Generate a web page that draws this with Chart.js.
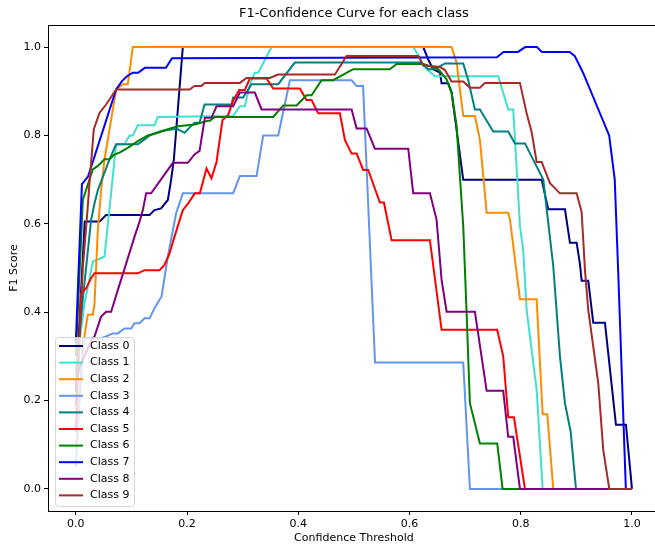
<!DOCTYPE html>
<html>
<head>
<meta charset="utf-8">
<script src="https://cdn.jsdelivr.net/npm/chart.js@4.4.1/dist/chart.umd.min.js"></script>
<style>
  html, body { margin: 0; padding: 0; background: #fff; }
  canvas { display: block; }
</style>
</head>
<body>
<canvas id="f1Chart" width="655" height="548"></canvas>
<script>
// Class names and colours (same order as the legend)
const classNames = ['Class 0', 'Class 1', 'Class 2', 'Class 3', 'Class 4',
                    'Class 5', 'Class 6', 'Class 7', 'Class 8', 'Class 9'];
const classColors = ['navy', 'turquoise', 'darkorange', 'cornflowerblue', 'teal',
                     'red', 'green', 'blue', 'purple', 'brown'];

// Tick labels
const xTicks = [0.0, 0.2, 0.4, 0.6, 0.8, 1.0];
const yTicks = [0.0, 0.2, 0.4, 0.6, 0.8, 1.0];

// [confidence threshold, F1 score]
const class0 = [[0, 0.22], [0.016, 0.605], [0.0426, 0.605], [0.0545, 0.62], [0.1326, 0.62], [0.1415, 0.631],
    [0.1534, 0.635], [0.1655, 0.654], [0.1714, 0.70], [0.1763, 0.746], [0.1924, 1.0], [0.6247, 1.0],
    [0.6336, 0.972], [0.6426, 0.95], [0.6547, 0.942], [0.6577, 0.918], [0.6696, 0.918], [0.6757, 0.897],
    [0.6966, 0.70], [0.8376, 0.70], [0.8495, 0.633], [0.8795, 0.633], [0.8885, 0.557], [0.9005, 0.557],
    [0.9065, 0.509], [0.9095, 0.471], [0.9214, 0.471], [0.9304, 0.376], [0.9514, 0.376], [0.9712, 0.145],
    [0.9892, 0.145], [1.0, 0.0]];
const class1 = [[0, 0.27], [0.0156, 0.42], [0.0306, 0.514], [0.0516, 0.526], [0.0725, 0.78], [0.0876, 0.78],
    [0.0966, 0.80], [0.1025, 0.80], [0.1115, 0.823], [0.1415, 0.823], [0.1475, 0.842], [0.2829, 0.844],
    [0.295, 0.866], [0.304, 0.866], [0.3129, 0.916], [0.322, 0.942], [0.328, 0.942], [0.352, 1.0],
    [0.6067, 1.0], [0.6187, 0.976], [0.6247, 0.957], [0.6457, 0.934], [0.7595, 0.934], [0.7775, 0.859],
    [0.7865, 0.859], [0.7986, 0.595], [0.8045, 0.54], [0.8106, 0.405], [0.8286, 0.224], [0.8394, 0.0],
    [1.0, 0.0]];
const class2 = [[0, 0.09], [0.0144, 0.337], [0.0216, 0.394], [0.0306, 0.394], [0.0336, 0.42], [0.0396, 0.586],
    [0.0455, 0.676], [0.0516, 0.746], [0.0725, 0.904], [0.0845, 0.916], [0.0935, 0.916], [0.1025, 1.0],
    [0.6757, 1.0], [0.6847, 0.965], [0.6966, 0.844], [0.7176, 0.844], [0.7266, 0.79], [0.7387, 0.625],
    [0.7775, 0.625], [0.7806, 0.61], [0.7986, 0.429], [0.8286, 0.429], [0.8394, 0.169], [0.8477, 0.169],
    [0.8585, 0.0], [1.0, 0.0]];
const class3 = [[0, 0.05], [0.013, 0.34], [0.043, 0.34], [0.0545, 0.345], [0.0665, 0.352], [0.0755, 0.352],
    [0.0876, 0.363], [0.0995, 0.363], [0.1056, 0.375], [0.1146, 0.375], [0.1236, 0.386], [0.1326, 0.386],
    [0.1415, 0.409], [0.1505, 0.428], [0.1541, 0.435], [0.1655, 0.526], [0.1804, 0.624], [0.1924, 0.669],
    [0.2829, 0.669], [0.295, 0.708], [0.325, 0.708], [0.3369, 0.80], [0.3639, 0.80], [0.3849, 0.925],
    [0.4959, 0.925], [0.5049, 0.912], [0.5165, 0.912], [0.538, 0.286], [0.6966, 0.286], [0.7086, 0.0],
    [1.0, 0.0]];
const class4 = [[0, 0.26], [0.0126, 0.43], [0.0275, 0.609], [0.0336, 0.646], [0.0396, 0.676], [0.0606, 0.746],
    [0.0725, 0.78], [0.1115, 0.78], [0.1236, 0.791], [0.1326, 0.80], [0.1534, 0.81], [0.1745, 0.814],
    [0.1835, 0.814], [0.1955, 0.806], [0.2135, 0.829], [0.2225, 0.829], [0.2315, 0.87], [0.28, 0.87],
    [0.2829, 0.886], [0.3009, 0.886], [0.316, 0.916], [0.3639, 0.916], [0.3939, 0.965], [0.6218, 0.965],
    [0.6336, 0.95], [0.6457, 0.95], [0.6637, 0.963], [0.6966, 0.963], [0.7056, 0.925], [0.7176, 0.859],
    [0.7266, 0.859], [0.7505, 0.809], [0.7775, 0.809], [0.7896, 0.782], [0.8076, 0.782], [0.8405, 0.70],
    [0.8585, 0.504], [0.8705, 0.30], [0.8795, 0.194], [0.8897, 0.13], [0.8993, 0.0], [1.0, 0.0]];
const class5 = [[0, 0.13], [0.0095, 0.443], [0.0185, 0.454], [0.0275, 0.477], [0.0336, 0.488], [0.1115, 0.488],
    [0.1236, 0.495], [0.1505, 0.495], [0.1595, 0.507], [0.1685, 0.533], [0.1775, 0.571], [0.1924, 0.631],
    [0.202, 0.646], [0.214, 0.669], [0.223, 0.669], [0.235, 0.725], [0.244, 0.703], [0.253, 0.74],
    [0.2638, 0.835], [0.2739, 0.846], [0.2818, 0.876], [0.2937, 0.903], [0.304, 0.903], [0.3129, 0.929],
    [0.343, 0.929], [0.3549, 0.906], [0.4029, 0.906], [0.4149, 0.88], [0.4239, 0.88], [0.4358, 0.85],
    [0.4748, 0.85], [0.4838, 0.79], [0.4959, 0.759], [0.5049, 0.759], [0.5167, 0.722], [0.5257, 0.722],
    [0.5468, 0.648], [0.554, 0.648], [0.5678, 0.563], [0.6367, 0.563], [0.6577, 0.36], [0.7577, 0.36],
    [0.7685, 0.30], [0.7775, 0.162], [0.7878, 0.162], [0.8076, 0.0], [1.0, 0.0]];
const class6 = [[0, 0.30], [0.0126, 0.654], [0.0306, 0.723], [0.0396, 0.731], [0.0516, 0.746], [0.0606, 0.746],
    [0.0696, 0.757], [0.0786, 0.761], [0.0935, 0.772], [0.1115, 0.787], [0.1295, 0.80], [0.1475, 0.806],
    [0.1655, 0.814], [0.1835, 0.821], [0.2135, 0.825], [0.2374, 0.833], [0.241, 0.833], [0.25, 0.842],
    [0.3549, 0.842], [0.3728, 0.868], [0.397, 0.868], [0.4149, 0.891], [0.4239, 0.891], [0.4419, 0.925],
    [0.4628, 0.925], [0.4987, 0.95], [0.5647, 0.95], [0.5768, 0.962], [0.6247, 0.962], [0.6516, 0.95],
    [0.6667, 0.927], [0.6757, 0.897], [0.6847, 0.821], [0.6906, 0.708], [0.6966, 0.595], [0.7027, 0.397],
    [0.7086, 0.194], [0.7266, 0.103], [0.7577, 0.103], [0.7674, 0.0], [1.0, 0.0]];
const class7 = [[0, 0.33], [0.011, 0.69], [0.022, 0.707], [0.0725, 0.904], [0.083, 0.923], [0.092, 0.934],
    [0.1025, 0.942], [0.112, 0.942], [0.124, 0.953], [0.162, 0.953], [0.173, 0.975], [0.757, 0.977],
    [0.769, 0.989], [0.795, 0.989], [0.808, 1.0], [0.829, 1.0], [0.838, 0.989], [0.888, 0.989],
    [0.897, 0.98], [0.912, 0.942], [0.959, 0.80], [0.969, 0.70], [0.975, 0.50], [0.989, 0.0], [1.0, 0.0]];
const class8 = [[0, 0.24], [0.0072, 0.277], [0.0282, 0.337], [0.0336, 0.345], [0.0455, 0.39], [0.0545, 0.401],
    [0.0635, 0.401], [0.0755, 0.45], [0.0905, 0.51], [0.1056, 0.571], [0.1146, 0.605], [0.1205, 0.631],
    [0.1265, 0.669], [0.1354, 0.669], [0.1745, 0.738], [0.2014, 0.738], [0.2135, 0.757], [0.2225, 0.765],
    [0.232, 0.84], [0.244, 0.84], [0.253, 0.866], [0.2829, 0.866], [0.295, 0.897], [0.3219, 0.897],
    [0.334, 0.859], [0.4959, 0.859], [0.5049, 0.816], [0.5228, 0.816], [0.5378, 0.77], [0.5977, 0.77],
    [0.6067, 0.669], [0.6367, 0.669], [0.6487, 0.609], [0.6577, 0.473], [0.6667, 0.401], [0.7176, 0.401],
    [0.7387, 0.222], [0.7685, 0.222], [0.7775, 0.118], [0.7865, 0.118], [0.7986, 0.0], [1.0, 0.0]];
const class9 = [[0, 0.19], [0.0067, 0.345], [0.0126, 0.50], [0.0216, 0.64], [0.0246, 0.693], [0.0324, 0.814],
    [0.0426, 0.851], [0.0545, 0.87], [0.0725, 0.904], [0.2045, 0.904], [0.2135, 0.912], [0.2254, 0.912],
    [0.232, 0.919], [0.295, 0.919], [0.307, 0.93], [0.3489, 0.93], [0.3639, 0.938], [0.4658, 0.938],
    [0.4869, 0.98], [0.6157, 0.98], [0.6247, 0.959], [0.6547, 0.955], [0.6637, 0.948], [0.6757, 0.922],
    [0.6966, 0.922], [0.7086, 0.908], [0.7266, 0.908], [0.7356, 0.919], [0.7986, 0.919], [0.8106, 0.85],
    [0.8196, 0.808], [0.8286, 0.74], [0.8376, 0.74], [0.8525, 0.692], [0.8705, 0.669], [0.9005, 0.669],
    [0.9095, 0.627], [0.9155, 0.495], [0.9214, 0.405], [0.9394, 0.239], [0.9484, 0.088], [0.9592, 0.0],
    [1.0, 0.0]];

const classData = [class0, class1, class2, class3, class4, class5, class6, class7, class8, class9];

const fontFamily = '"DejaVu Sans", sans-serif';

// Title, axis labels, top spine and the legend box are drawn here
const decorPlugin = {
    id: 'decor',
    afterDatasetsDraw(chart) {
        const c = chart.ctx;
        const area = chart.chartArea;
        const xs = chart.scales.x;
        c.save();

        // top spine
        c.strokeStyle = '#000';
        c.lineWidth = 1;
        c.beginPath();
        c.moveTo(area.left, area.top + 0.5);
        c.lineTo(area.right, area.top + 0.5);
        c.stroke();

        // legend
        const lx = 55, ly = 337, lw = 79, lh = 169;
        c.fillStyle = 'rgba(255,255,255,0.8)';
        c.strokeStyle = 'rgba(204,204,204,0.8)';
        c.beginPath();
        c.roundRect(lx + 0.5, ly + 0.5, lw, lh, 3);
        c.fill();
        c.stroke();
        c.font = '11px ' + fontFamily;
        c.textBaseline = 'middle';
        c.textAlign = 'left';
        classNames.forEach((name, i) => {
            const y = 346 + i * 16.6;
            c.strokeStyle = classColors[i];
            c.lineWidth = 2;
            c.beginPath();
            c.moveTo(59, y);
            c.lineTo(83, y);
            c.stroke();
            c.fillStyle = '#000';
            c.fillText(name, 90, y);
        });

        // title and axis titles
        const midX = xs.getPixelForValue(0.5);
        c.fillStyle = '#000';
        c.textAlign = 'center';
        c.font = '13px ' + fontFamily;
        c.fillText('F1-Confidence Curve for each class', midX, 14);
        c.font = '11px ' + fontFamily;
        c.fillText('Confidence Threshold', midX, 538);
        c.translate(14, (area.top + area.bottom) / 2);
        c.rotate(-Math.PI / 2);
        c.fillText('F1 Score', 0, 0);
        c.restore();
    }
};

const tickFont = { family: fontFamily, size: 11 };

new Chart(document.getElementById('f1Chart'), {
    type: 'line',
    data: {
        datasets: classData.map((pts, i) => ({
            label: classNames[i],
            data: pts.map(p => ({ x: p[0], y: p[1] })),
            borderColor: classColors[i],
            backgroundColor: classColors[i],
            borderWidth: 2,
            pointRadius: 0,
            tension: 0,
            fill: false,
            order: 9 - i
        }))
    },
    options: {
        responsive: false,
        animation: false,
        layout: { padding: { top: 25, left: 0, right: 0, bottom: 0 } },
        plugins: {
            legend: { display: false },
            tooltip: { enabled: false }
        },
        scales: {
            x: {
                type: 'linear',
                min: -0.05,
                max: 1.0414,
                afterFit: s => { s.height = 37; },
                afterBuildTicks: s => { s.ticks = xTicks.map(v => ({ value: v })); },
                ticks: { callback: v => v.toFixed(1), font: tickFont, color: '#000', padding: 3, maxRotation: 0, autoSkip: false },
                grid: { drawOnChartArea: false, drawTicks: true, tickLength: 4, color: '#000' },
                border: { color: '#000', width: 1 }
            },
            y: {
                type: 'linear',
                min: -0.05,
                max: 1.05,
                afterFit: s => { s.width = 48; },
                afterBuildTicks: s => { s.ticks = yTicks.map(v => ({ value: v })); },
                ticks: { callback: v => v.toFixed(1), font: tickFont, color: '#000', padding: 3, autoSkip: false },
                grid: { drawOnChartArea: false, drawTicks: true, tickLength: 4, color: '#000' },
                border: { color: '#000', width: 1 }
            }
        }
    },
    plugins: [decorPlugin]
});
</script>
</body>
</html>
